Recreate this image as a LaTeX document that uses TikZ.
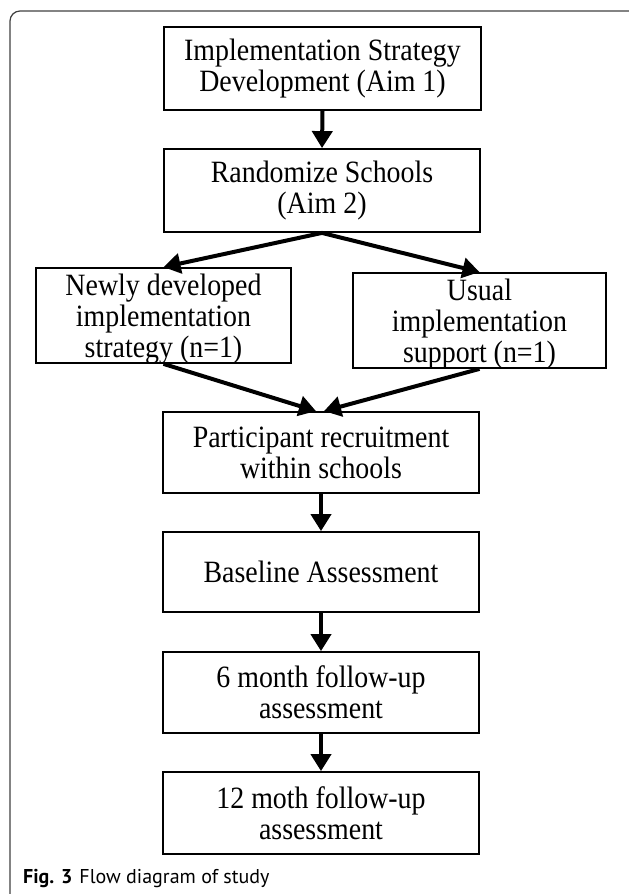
\documentclass[tikz,border=0pt]{standalone}
\usepackage{fontspec}
\setmainfont{Liberation Serif}
\newfontfamily\boxfont{Liberation Serif}[FakeStretch=0.9]
\newfontfamily\capfont{PT Sans}
\usetikzlibrary{arrows.meta}
\newcommand{\lowertext}[2]{\raisebox{-#1}[\height][\depth]{\begin{tabular}{@{}c@{}}#2\end{tabular}}}
\begin{document}
\begin{tikzpicture}[x=1pt,y=-1pt,
  box/.style={draw=black, line width=1.8pt, inner xsep=0pt, inner ysep=-8pt, align=center,
    font=\boxfont\fontsize{31}{31}\selectfont},
  flow/.style={draw=black, line width=4pt, -{Triangle[length=17pt,width=20pt]}},
]
\useasboundingbox (0,0) rectangle (629,894);
\draw[black!75, line width=1.2pt, rounded corners=10pt] (10,894) -- (10,11) -- (629,11);

\node[box, minimum width=317pt, minimum height=83pt] (b1) at (322.5,68.5) {Implementation Strategy\\Development (Aim 1)};
\node[box, minimum width=316pt, minimum height=83pt] (b2) at (322,190.5) {Randomize Schools\\(Aim 2)};
\node[box, minimum width=255pt, minimum height=95pt] (n1) at (163.5,315.5) {\lowertext{5pt}{Newly developed\\implementation\\strategy (n=1)}};
\node[box, minimum width=253pt, minimum height=95pt] (n2) at (479.5,320.5) {\lowertext{5pt}{Usual\\implementation\\support (n=1)}};
\node[box, minimum width=316pt, minimum height=81pt] (p) at (321,452.5) {Participant recruitment\\within schools};
\node[box, minimum width=316pt, minimum height=80pt] (bl) at (321,572) {Baseline Assessment};
\node[box, minimum width=316pt, minimum height=81pt] (s6) at (321,692.5) {6 month follow-up\\assessment};
\node[box, minimum width=316pt, minimum height=82pt] (s12) at (321,813) {12 moth follow-up\\assessment};

\draw[flow] (b1.south) -- (b2.north);
\draw[flow] (b2.south) -- (n1.north);
\draw[flow] (b2.south) -- (n2.north);
\draw[flow] (n1.south) -- ([xshift=-5pt]p.north);
\draw[flow] (n2.south) -- ([xshift=3pt]p.north);
\draw[flow] (p.south) -- (bl.north);
\draw[flow] (bl.south) -- (s6.north);
\draw[flow] (s6.south) -- (s12.north);

\node[anchor=west, inner sep=0pt, font=\capfont\fontsize{20}{23}\selectfont] (cap) at (23,878) {\textbf{Fig. 3}\hspace{7pt}Flow diagram of study};
\end{tikzpicture}
\end{document}
